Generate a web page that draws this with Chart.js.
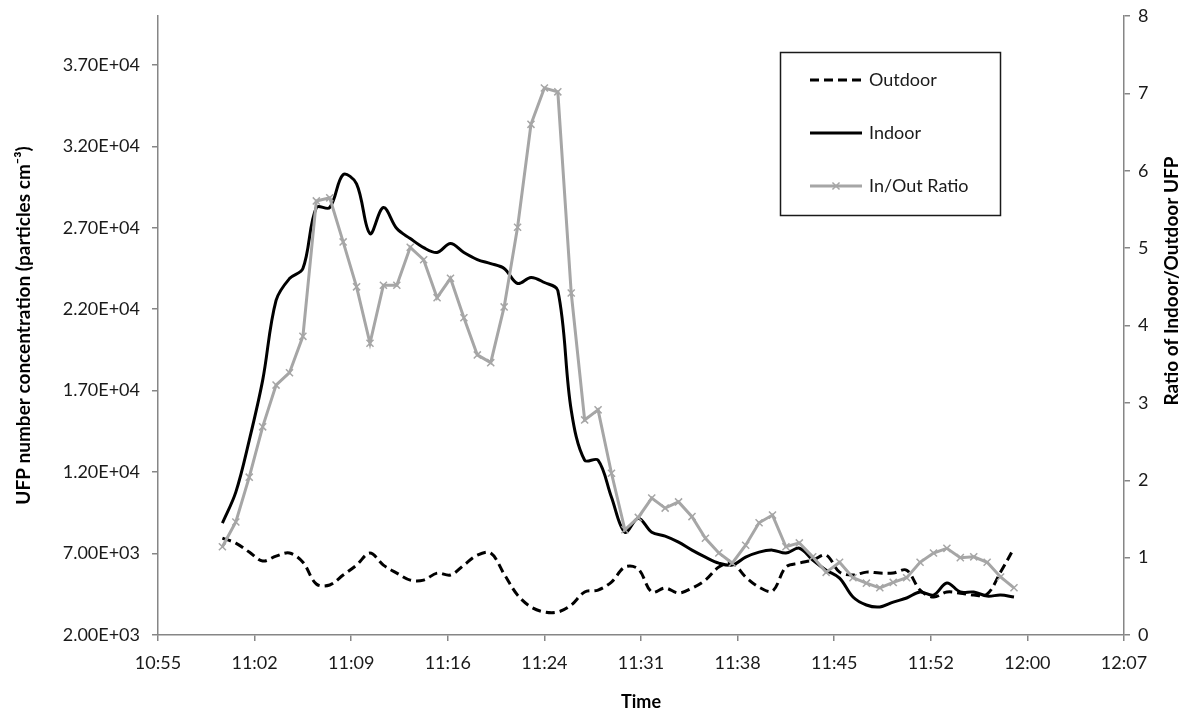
<!DOCTYPE html>
<html>
<head>
<meta charset="utf-8">
<script src="https://cdn.jsdelivr.net/npm/chart.js@4.4.1/dist/chart.umd.min.js"></script>
<style>
  html, body { margin: 0; padding: 0; background: #ffffff; }
  #wrap { width: 1182px; height: 713px; position: relative; }
</style>
</head>
<body>
<div id="wrap"><canvas id="chart" width="1182" height="713"></canvas></div>
<script>
// ---- Data ----
const times = [
  '11:00','11:01','11:02','11:03','11:04','11:05','11:06','11:07','11:08','11:09',
  '11:10','11:11','11:12','11:13','11:14','11:15','11:16','11:17','11:18','11:19',
  '11:20','11:21','11:22','11:23','11:24','11:25','11:26','11:27','11:28','11:29',
  '11:30','11:31','11:32','11:33','11:34','11:35','11:36','11:37','11:38','11:39',
  '11:40','11:41','11:42','11:43','11:44','11:45','11:46','11:47','11:48','11:49',
  '11:50','11:51','11:52','11:53','11:54','11:55','11:56','11:57','11:58','11:59'
];

const outdoor = [
  7950, 7640, 7090, 6540, 6840, 7030, 6470, 5130, 5070, 5680,
  6290, 7030, 6290, 5800, 5370, 5370, 5800, 5680, 6290, 6900,
  7030, 5740, 4450, 3720, 3410, 3410, 3840, 4640, 4760, 5250,
  6170, 6050, 4640, 4880, 4580, 4880, 5370, 6170, 6410, 5560,
  4940, 4700, 6170, 6410, 6600, 6900, 5860, 5680, 5860, 5800,
  5800, 5980, 4760, 4330, 4640, 4570, 4450, 4510, 5860, 7330
];

const indoor = [
  8866, 10770, 13950, 17630, 22540, 23880, 24500, 28240, 28240, 30260,
  29700, 26640, 28240, 26950, 26340, 25780, 25480, 26030, 25480, 25050,
  24800, 24500, 23580, 23950, 23640, 23150, 15800, 12730, 12730, 10460,
  8310, 9170, 8310, 8070, 7700, 7210, 6780, 6410, 6290, 6780,
  7090, 7210, 7030, 7330, 6600, 5980, 5490, 4330, 3840, 3720,
  4020, 4270, 4640, 4450, 5190, 4640, 4640, 4390, 4450, 4330
];

const ratio = [
  1.14, 1.46, 2.04, 2.69, 3.23, 3.39, 3.86, 5.61, 5.65, 5.08,
  4.50, 3.77, 4.52, 4.52, 5.01, 4.85, 4.36, 4.61, 4.10, 3.62,
  3.52, 4.24, 5.27, 6.60, 7.07, 7.02, 4.42, 2.78, 2.91, 2.09,
  1.36, 1.52, 1.77, 1.64, 1.72, 1.53, 1.25, 1.06, 0.93, 1.16,
  1.45, 1.55, 1.14, 1.19, 1.01, 0.81, 0.94, 0.74, 0.67, 0.61,
  0.68, 0.74, 0.94, 1.06, 1.12, 1.00, 1.01, 0.94, 0.75, 0.61
];

const seriesNames = ['Outdoor', 'Indoor', 'In/Out Ratio'];

// tick values (minutes after midnight; Excel steps of 0.005 day) and their labels
const xTickMinutes = [655.2, 662.4, 669.6, 676.8, 684, 691.2, 698.4, 705.6, 712.8, 720, 727.2];
const xTickLabels  = ['10:55','11:02','11:09','11:16','11:24','11:31','11:38','11:45','11:52','12:00','12:07'];
const leftTicks  = [2000, 7000, 12000, 17000, 22000, 27000, 32000, 37000];
const rightTicks = [0, 1, 2, 3, 4, 5, 6, 7, 8];

const xTitle = 'Time';
const leftTitle = 'UFP number concentration (particles cm\u207B\u00B3)';
const rightTitle = 'Ratio of Indoor/Outdoor UFP';

// ---- helpers ----
const toMinutes = s => { const p = s.split(':').map(Number); return p[0] * 60 + p[1]; };
const toPoints = arr => arr.map((v, i) => ({ x: toMinutes(times[i]), y: v }));
const excelSci = v => {
  const s = Number(v).toExponential(2).toUpperCase();
  return s.replace(/E([+-])(\d)$/, 'E$10$2');
};

const FONT = 'Lato';
const TEXT = '#1a1a1a';
const AXIS = '#868686';

const rightTitlePlugin = {
  id: 'rightTitle',
  afterDraw(chart) {
    const ctx = chart.ctx;
    ctx.save();
    ctx.translate(1172, 281);
    ctx.rotate(-Math.PI / 2);
    ctx.font = 'bold 19px ' + FONT;
    ctx.fillStyle = '#000';
    ctx.textAlign = 'center';
    ctx.textBaseline = 'middle';
    ctx.fillText(rightTitle, 0, 0);
    ctx.restore();
  }
};

const boxLegendPlugin = {
  id: 'boxLegend',
  afterDraw(chart) {
    const ctx = chart.ctx;
    ctx.save();
    ctx.strokeStyle = '#1a1a1a';
    ctx.lineWidth = 1.5;
    ctx.strokeRect(780.5, 52.5, 220, 163);
    const rowY = [80, 133, 186];
    chart.data.datasets.forEach((ds, i) => {
      const y = rowY[i];
      ctx.beginPath();
      ctx.setLineDash(ds.borderDash || []);
      ctx.strokeStyle = ds.borderColor;
      ctx.lineWidth = ds.borderWidth;
      ctx.moveTo(810, y);
      ctx.lineTo(862, y);
      ctx.stroke();
      ctx.setLineDash([]);
      if (ds.pointStyle === 'crossRot') {
        const r = ds.pointRadius;
        ctx.beginPath();
        ctx.strokeStyle = ds.pointBorderColor;
        ctx.lineWidth = ds.pointBorderWidth;
        ctx.moveTo(836 - r * 0.707, y - r * 0.707);
        ctx.lineTo(836 + r * 0.707, y + r * 0.707);
        ctx.moveTo(836 - r * 0.707, y + r * 0.707);
        ctx.lineTo(836 + r * 0.707, y - r * 0.707);
        ctx.stroke();
      }
      ctx.font = '18px ' + FONT;
      ctx.fillStyle = TEXT;
      ctx.textAlign = 'left';
      ctx.textBaseline = 'middle';
      ctx.fillText(ds.label, 869, y);
    });
    ctx.restore();
  }
};

new Chart(document.getElementById('chart'), {
  type: 'line',
  data: {
    datasets: [
      {
        label: seriesNames[0],
        data: toPoints(outdoor),
        yAxisID: 'y',
        borderColor: '#000000',
        borderWidth: 3,
        borderDash: [9, 5],
        pointRadius: 0,
        tension: 0.35,
        order: 2
      },
      {
        label: seriesNames[1],
        data: toPoints(indoor),
        yAxisID: 'y',
        borderColor: '#000000',
        borderWidth: 3,
        pointRadius: 0,
        tension: 0.35,
        order: 1
      },
      {
        label: seriesNames[2],
        data: toPoints(ratio),
        yAxisID: 'y1',
        borderColor: '#A6A6A6',
        borderWidth: 3,
        tension: 0,
        pointStyle: 'crossRot',
        pointRadius: 5,
        pointBorderColor: '#A6A6A6',
        pointBackgroundColor: 'rgba(0,0,0,0)',
        pointBorderWidth: 1.5,
        order: 0
      }
    ]
  },
  options: {
    responsive: false,
    animation: false,
    events: [],
    layout: { padding: { top: 16, left: 0, right: 0, bottom: 0 } },
    plugins: {
      legend: { display: false },
      tooltip: { enabled: false }
    },
    scales: {
      x: {
        type: 'linear',
        position: 'bottom',
        min: xTickMinutes[0],
        max: xTickMinutes[xTickMinutes.length - 1],
        afterBuildTicks: s => { s.ticks = xTickMinutes.map(v => ({ value: v })); },
        afterFit: s => { s.height = 78; s.paddingLeft = 0; s.paddingRight = 0; },
        ticks: {
          autoSkip: false,
          maxRotation: 0,
          padding: 11,
          color: TEXT,
          font: { family: FONT, size: 18 },
          callback: (v, i) => xTickLabels[i]
        },
        grid: { drawOnChartArea: false, drawTicks: true, tickLength: 6, color: AXIS, lineWidth: 1.5 },
        border: { display: true, color: AXIS, width: 1.5 },
        title: {
          display: true,
          text: xTitle,
          color: '#000',
          font: { family: FONT, size: 18, weight: 'bold' },
          padding: { top: 0, bottom: 0 }
        }
      },
      y: {
        type: 'linear',
        position: 'left',
        min: 2000,
        max: 40000,
        afterBuildTicks: s => { s.ticks = leftTicks.map(v => ({ value: v })); },
        afterFit: s => { s.width = 158; s.paddingTop = 0; s.paddingBottom = 0; },
        ticks: {
          padding: 12,
          color: TEXT,
          font: { family: FONT, size: 18 },
          callback: v => excelSci(v)
        },
        grid: { drawOnChartArea: false, drawTicks: true, tickLength: 6, color: AXIS, lineWidth: 1.5 },
        border: { display: true, color: AXIS, width: 1.5 },
        title: {
          display: true,
          text: leftTitle,
          color: '#000',
          font: { family: FONT, size: 19, weight: 'bold' },
          padding: { top: 12, bottom: 0 }
        }
      },
      y1: {
        type: 'linear',
        position: 'right',
        min: 0,
        max: 8,
        afterBuildTicks: s => { s.ticks = rightTicks.map(v => ({ value: v })); },
        afterFit: s => { s.width = 58; s.paddingTop = 0; s.paddingBottom = 0; },
        ticks: {
          padding: 8,
          color: TEXT,
          font: { family: FONT, size: 18 },
          callback: v => String(v)
        },
        grid: { drawOnChartArea: false, drawTicks: true, tickLength: 6, color: AXIS, lineWidth: 1.5 },
        border: { display: true, color: AXIS, width: 1.5 },
        title: { display: false }
      }
    }
  },
  plugins: [rightTitlePlugin, boxLegendPlugin]
});
</script>
</body>
</html>
